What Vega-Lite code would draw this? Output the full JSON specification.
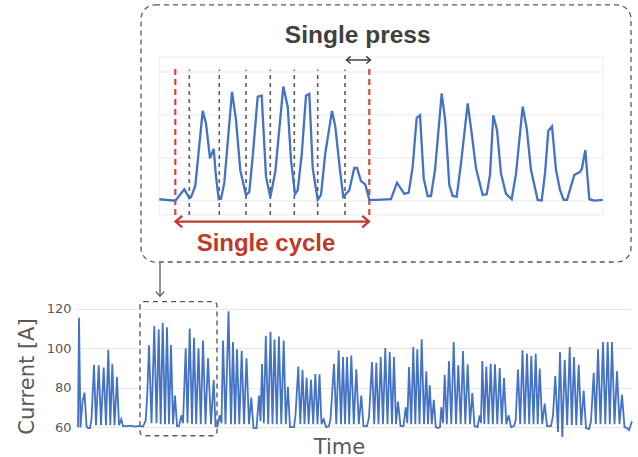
{
  "$schema": "https://vega.github.io/schema/vega-lite/v6.json",
  "padding": {"left": 15, "top": 0, "right": 8, "bottom": 0},
  "background": "white",
  "bounds": "flush",
  "spacing": 40,
  "resolve": {"scale": {"x": "independent", "y": "independent"}},
  "config": {
    "view": {"stroke": null},
    "axisX": {"labels": false, "ticks": false, "domain": false, "grid": false, "titleFont": "DejaVu Sans", "titleFontSize": 21, "titleFontWeight": "normal", "titleColor": "#595959", "titleX": 263, "titleY": 18, "titleBaseline": "alphabetic", "titleAlign": "center"},
    "axisY": {"grid": true, "gridColor": "#e6e6e6", "domain": false, "ticks": false, "labelPadding": 5, "labelFont": "DejaVu Sans", "labelFontSize": 13, "labelColor": "#595959", "titleFont": "DejaVu Sans", "titleFontSize": 21, "titleFontWeight": "normal", "titleColor": "#595959", "titleX": -49, "titleY": 71, "titleAngle": -90, "titleAlign": "center", "titleBaseline": "middle"}
  },
  "datasets": {
    "main": [
      {"t":2,"a":60},{"t":3,"a":115.5},{"t":4.5,"a":60},{"t":6.5,"a":73},{"t":8.5,"a":77.5},{"t":10.5,"a":60.5},{"t":12,"a":59.5},{"t":14,"a":59.5},{"t":15.5,"a":64},{"t":18,"a":91.7},{"t":20,"a":61},{"t":22.7,"a":91.4},{"t":25,"a":61},{"t":27.7,"a":90.2},{"t":30,"a":61},{"t":32.3,"a":99.3},{"t":34.3,"a":61},{"t":36.3,"a":92.2},{"t":38.5,"a":61},{"t":41,"a":85.4},{"t":43,"a":61},{"t":45.3,"a":64},{"t":47,"a":60.5},{"t":51,"a":60.5},{"t":55,"a":60.8},{"t":59,"a":60.3},{"t":63,"a":60.6},{"t":67,"a":60.3},{"t":69.7,"a":63.4},{"t":71.3,"a":77},{"t":73,"a":101.5},{"t":75.5,"a":62},{"t":78.3,"a":111.5},{"t":80.5,"a":62},{"t":82.7,"a":109.7},{"t":84.7,"a":61.5},{"t":86.7,"a":113},{"t":89,"a":61.5},{"t":91,"a":110.7},{"t":93,"a":61.5},{"t":95,"a":101.7},{"t":97,"a":61.5},{"t":99,"a":76},{"t":101,"a":60.5},{"t":103,"a":60.5},{"t":105.5,"a":66},{"t":107,"a":62},{"t":109.7,"a":100},{"t":111.5,"a":62},{"t":113.7,"a":110},{"t":116,"a":61.5},{"t":118,"a":105.3},{"t":120.2,"a":61.5},{"t":122.5,"a":100},{"t":124.8,"a":61.5},{"t":127,"a":104},{"t":129.5,"a":61.5},{"t":132,"a":95},{"t":135,"a":61.5},{"t":137.7,"a":84},{"t":139.5,"a":60.5},{"t":141.5,"a":60.5},{"t":143.7,"a":66},{"t":145.5,"a":62},{"t":147,"a":104},{"t":149.5,"a":61.5},{"t":152.5,"a":118.8},{"t":155,"a":61.5},{"t":157,"a":103.2},{"t":159,"a":61.5},{"t":161,"a":99.5},{"t":163.3,"a":61.5},{"t":165.7,"a":98.7},{"t":168,"a":61.5},{"t":170.5,"a":95},{"t":173,"a":61.5},{"t":175.3,"a":75},{"t":177.5,"a":59.5},{"t":180.5,"a":59.5},{"t":183,"a":76},{"t":184.5,"a":63},{"t":186,"a":92},{"t":187.8,"a":62},{"t":189.8,"a":106.4},{"t":192.2,"a":61.5},{"t":194.5,"a":108.4},{"t":196.5,"a":61.5},{"t":198.5,"a":104.5},{"t":200.8,"a":61.5},{"t":202.9,"a":106},{"t":205.3,"a":61.5},{"t":207.7,"a":104},{"t":209.8,"a":61.5},{"t":211.9,"a":80.5},{"t":214,"a":60},{"t":218,"a":60},{"t":219.5,"a":66},{"t":222.3,"a":90.8},{"t":224.3,"a":61.5},{"t":226.5,"a":89},{"t":228.5,"a":61.5},{"t":230.6,"a":85},{"t":232.7,"a":61.5},{"t":235,"a":84},{"t":237.2,"a":61.5},{"t":239.3,"a":87},{"t":241.5,"a":61.5},{"t":243.5,"a":86.8},{"t":245.5,"a":61.5},{"t":247.7,"a":64},{"t":250,"a":60},{"t":253,"a":60.5},{"t":254.5,"a":64},{"t":258,"a":92.2},{"t":260.3,"a":61.5},{"t":262.7,"a":99},{"t":265,"a":61.5},{"t":267,"a":95.6},{"t":269,"a":61.5},{"t":271,"a":95.6},{"t":273.2,"a":61.5},{"t":275.3,"a":96.4},{"t":277.8,"a":61.5},{"t":280.3,"a":89.3},{"t":282.8,"a":61.5},{"t":285.3,"a":76},{"t":287.5,"a":60.5},{"t":291,"a":60.5},{"t":293,"a":65},{"t":296,"a":93},{"t":298.2,"a":61.5},{"t":300.3,"a":92.7},{"t":302.5,"a":61.5},{"t":304.7,"a":95.6},{"t":307,"a":61.5},{"t":309.3,"a":100.2},{"t":311.5,"a":61.5},{"t":313.7,"a":98.1},{"t":316,"a":61.5},{"t":318,"a":95.6},{"t":320,"a":61.5},{"t":322,"a":73},{"t":324.5,"a":60.5},{"t":327.5,"a":60.5},{"t":329.7,"a":70},{"t":331.3,"a":62},{"t":333,"a":90.5},{"t":335.2,"a":61.5},{"t":337.3,"a":100.7},{"t":339.3,"a":61.5},{"t":341.3,"a":99.5},{"t":343.5,"a":61.5},{"t":345.7,"a":104.6},{"t":348,"a":61.5},{"t":350.3,"a":88.3},{"t":352,"a":61.5},{"t":353.7,"a":81.2},{"t":355.8,"a":61.5},{"t":357.8,"a":73.8},{"t":359.8,"a":60},{"t":362,"a":59.5},{"t":364,"a":60},{"t":365.3,"a":70},{"t":367,"a":62},{"t":368.7,"a":86.6},{"t":370.8,"a":61.5},{"t":373,"a":93.6},{"t":375.3,"a":61.5},{"t":377.7,"a":103.2},{"t":380,"a":61.5},{"t":382.3,"a":91.4},{"t":384.7,"a":61.5},{"t":387,"a":98.6},{"t":389.3,"a":61.5},{"t":391.7,"a":91.9},{"t":394,"a":61.5},{"t":396.3,"a":77.3},{"t":398.5,"a":60.5},{"t":401.5,"a":60},{"t":403.7,"a":66},{"t":405,"a":62},{"t":406.3,"a":93.6},{"t":408.3,"a":61.5},{"t":410.3,"a":90.8},{"t":412.5,"a":61.5},{"t":414.7,"a":92.2},{"t":416.8,"a":61.5},{"t":419,"a":91.9},{"t":421.3,"a":61.5},{"t":423.7,"a":90},{"t":425.8,"a":61.5},{"t":428,"a":84.9},{"t":430.3,"a":61.5},{"t":432.7,"a":66},{"t":435,"a":60},{"t":438,"a":60.5},{"t":439.7,"a":63.5},{"t":442,"a":89.2},{"t":444.2,"a":61.5},{"t":446.5,"a":99},{"t":448.7,"a":61.5},{"t":451,"a":97.3},{"t":453.2,"a":61.5},{"t":455.3,"a":96.1},{"t":457.5,"a":61.5},{"t":459.7,"a":97.3},{"t":461.7,"a":61.5},{"t":463.7,"a":89.7},{"t":466.2,"a":61.5},{"t":468.7,"a":71.9},{"t":471,"a":60.5},{"t":475,"a":60.5},{"t":477,"a":66},{"t":479.3,"a":85.9},{"t":482,"a":57.5},{"t":484,"a":98.1},{"t":486.3,"a":55},{"t":488.7,"a":94.2},{"t":491.2,"a":61},{"t":493.7,"a":100.7},{"t":495.8,"a":61},{"t":498,"a":95.6},{"t":500.3,"a":61},{"t":502.7,"a":91.7},{"t":505.2,"a":61},{"t":507.7,"a":78.6},{"t":510,"a":59.5},{"t":513,"a":59},{"t":515,"a":63},{"t":517.7,"a":87.6},{"t":519.8,"a":61.5},{"t":522,"a":99.5},{"t":524.5,"a":61.5},{"t":527,"a":103.2},{"t":529.3,"a":61.5},{"t":531.7,"a":103.2},{"t":533.8,"a":61.5},{"t":536,"a":103.2},{"t":538.5,"a":61.5},{"t":541,"a":88.3},{"t":543.5,"a":61.5},{"t":546,"a":76.4},{"t":548.5,"a":60},{"t":551,"a":59.5},{"t":553,"a":58.5},{"t":556,"a":63}
    ],
    "inset": [
      {"u":0.3,"a":60.8},{"u":7,"a":60.5},{"u":16.3,"a":60.1},{"u":25.3,"a":65.4},{"u":30.3,"a":61.3},{"u":32,"a":61.7},{"u":36.3,"a":67.1},{"u":43.7,"a":101.9},{"u":47,"a":96.1},{"u":51,"a":79.8},{"u":54.7,"a":84.2},{"u":57,"a":71.3},{"u":59.7,"a":60.8},{"u":62,"a":61},{"u":65.3,"a":68.4},{"u":73,"a":110.8},{"u":77,"a":97.7},{"u":81.3,"a":74.2},{"u":87,"a":62.7},{"u":90.3,"a":64.2},{"u":93.7,"a":80.6},{"u":98.7,"a":108.5},{"u":102.7,"a":109},{"u":107,"a":71.3},{"u":111.3,"a":61.7},{"u":116.3,"a":73.6},{"u":124.3,"a":113.2},{"u":128.7,"a":103.9},{"u":132,"a":79.1},{"u":136,"a":63.2},{"u":138.7,"a":65},{"u":142.7,"a":81.4},{"u":147,"a":109},{"u":150.3,"a":109.8},{"u":153.7,"a":75.4},{"u":158.7,"a":60.5},{"u":162,"a":62.8},{"u":166.3,"a":82.2},{"u":173,"a":101.9},{"u":176.3,"a":94.6},{"u":181,"a":74.2},{"u":184.3,"a":61.9},{"u":190.3,"a":65},{"u":195.3,"a":75.4},{"u":198,"a":75.4},{"u":202,"a":69.2},{"u":206.3,"a":67.7},{"u":210.3,"a":60.5},{"u":217,"a":60.5},{"u":232,"a":60.8},{"u":238,"a":68.5},{"u":245.3,"a":63.3},{"u":249.7,"a":63.9},{"u":253.7,"a":76},{"u":257.7,"a":98.7},{"u":261,"a":99.9},{"u":264.7,"a":70.5},{"u":268.7,"a":62.3},{"u":272,"a":62.3},{"u":276,"a":74.4},{"u":282.7,"a":110.1},{"u":286.3,"a":97.1},{"u":290.3,"a":67.4},{"u":293.7,"a":62.3},{"u":297.7,"a":62},{"u":302,"a":77.5},{"u":308.7,"a":105.4},{"u":312.7,"a":91.4},{"u":317,"a":75.2},{"u":323.7,"a":62.8},{"u":327.7,"a":63.1},{"u":331,"a":72.1},{"u":334.3,"a":99.9},{"u":338,"a":92.9},{"u":342,"a":72.7},{"u":347,"a":63.3},{"u":352.7,"a":60.8},{"u":357,"a":72.7},{"u":363.7,"a":103.9},{"u":367.7,"a":93.8},{"u":372,"a":74.4},{"u":378.7,"a":60.5},{"u":382.7,"a":60.2},{"u":386,"a":72.7},{"u":389.3,"a":92.6},{"u":393,"a":94.7},{"u":397,"a":74.4},{"u":401,"a":65.1},{"u":404.7,"a":60.5},{"u":408,"a":60.5},{"u":415.3,"a":72.1},{"u":421.3,"a":73.6},{"u":423,"a":75.2},{"u":426.3,"a":83.7},{"u":430.3,"a":60.8},{"u":435.3,"a":60.2},{"u":443.7,"a":60.5}
    ]
  },
  "vconcat": [
    {
      "width": 555,
      "height": 265,
      "layer": [
        {
          "data": {"values": [{"u": -18, "u2": 472, "a": 31.6, "a2": 151.2}]},
          "mark": {"type": "rect", "fill": "white", "fillOpacity": 0, "stroke": "#5a5a5a", "strokeWidth": 1.3, "strokeDash": [5, 4], "cornerRadius": 14},
          "encoding": {
            "x": {"field": "u", "type": "quantitative", "scale": {"domain": [-83, 472], "nice": false, "zero": false}, "axis": null},
            "x2": {"field": "u2"},
            "y": {"field": "a", "type": "quantitative", "scale": {"domain": [30.2, 153.5], "nice": false, "zero": false}, "axis": null},
            "y2": {"field": "a2"}
          }
        },
        {
          "data": {"values": [{"u": 0, "u2": 444, "a": 53.5, "a2": 127}]},
          "mark": {"type": "rect", "fill": "white", "fillOpacity": 0, "stroke": "#ececec", "strokeWidth": 1},
          "encoding": {
            "x": {"field": "u", "type": "quantitative", "scale": {"domain": [-83, 472], "nice": false, "zero": false}, "axis": null},
            "x2": {"field": "u2"},
            "y": {"field": "a", "type": "quantitative", "scale": {"domain": [30.2, 153.5], "nice": false, "zero": false}, "axis": null},
            "y2": {"field": "a2"}
          }
        },
        {
          "data": {"values": [{"a": 60, "u": 0, "u2": 444}, {"a": 80, "u": 0, "u2": 444}, {"a": 100, "u": 0, "u2": 444}, {"a": 120, "u": 0, "u2": 444}]},
          "mark": {"type": "rule", "color": "#e8e8e8", "strokeWidth": 1},
          "encoding": {
            "x": {"field": "u", "type": "quantitative", "scale": {"domain": [-83, 472], "nice": false, "zero": false}, "axis": null},
            "x2": {"field": "u2"},
            "y": {"field": "a", "type": "quantitative", "scale": {"domain": [30.2, 153.5], "nice": false, "zero": false}, "axis": null}
          }
        },
        {
          "data": {"values": [{"u": 30.3, "a": 53.5, "a2": 121}, {"u": 60.3, "a": 53.5, "a2": 121}, {"u": 87, "a": 53.5, "a2": 121}, {"u": 111.3, "a": 53.5, "a2": 121}, {"u": 135.3, "a": 53.5, "a2": 121}, {"u": 158.7, "a": 53.5, "a2": 121}, {"u": 186, "a": 53.5, "a2": 121}]},
          "mark": {"type": "rule", "color": "#5a5a5a", "strokeWidth": 1.6, "strokeDash": [4, 4]},
          "encoding": {
            "x": {"field": "u", "type": "quantitative", "scale": {"domain": [-83, 472], "nice": false, "zero": false}, "axis": null},
            "y": {"field": "a", "type": "quantitative", "scale": {"domain": [30.2, 153.5], "nice": false, "zero": false}, "axis": null},
            "y2": {"field": "a2"}
          }
        },
        {
          "data": {"values": [{"u": 16.3, "a": 53.5, "a2": 122}, {"u": 210.3, "a": 53.5, "a2": 122}]},
          "mark": {"type": "rule", "color": "#d9483b", "strokeWidth": 2.2, "strokeDash": [6, 4]},
          "encoding": {
            "x": {"field": "u", "type": "quantitative", "scale": {"domain": [-83, 472], "nice": false, "zero": false}, "axis": null},
            "y": {"field": "a", "type": "quantitative", "scale": {"domain": [30.2, 153.5], "nice": false, "zero": false}, "axis": null},
            "y2": {"field": "a2"}
          }
        },
        {
          "data": {"name": "inset"},
          "mark": {"type": "line", "color": "#4472C4", "strokeWidth": 2.3},
          "encoding": {
            "x": {"field": "u", "type": "quantitative", "scale": {"domain": [-83, 472], "nice": false, "zero": false}, "axis": null},
            "y": {"field": "a", "type": "quantitative", "scale": {"domain": [30.2, 153.5], "nice": false, "zero": false}, "axis": null}
          }
        },
        {
          "data": {"values": [{"u": 16.5, "u2": 210, "a": 50.4}]},
          "mark": {"type": "rule", "color": "#c0392b", "strokeWidth": 2.2},
          "encoding": {
            "x": {"field": "u", "type": "quantitative", "scale": {"domain": [-83, 472], "nice": false, "zero": false}, "axis": null},
            "x2": {"field": "u2"},
            "y": {"field": "a", "type": "quantitative", "scale": {"domain": [30.2, 153.5], "nice": false, "zero": false}, "axis": null}
          }
        },
        {
          "data": {"values": [{"u": 16.5, "a": 50.4, "d": "l"}, {"u": 210, "a": 50.4, "d": "r"}]},
          "mark": {"type": "point", "color": "#c0392b", "filled": false, "opacity": 1, "strokeWidth": 2.2, "size": 180},
          "encoding": {
            "x": {"field": "u", "type": "quantitative", "scale": {"domain": [-83, 472], "nice": false, "zero": false}, "axis": null},
            "y": {"field": "a", "type": "quantitative", "scale": {"domain": [30.2, 153.5], "nice": false, "zero": false}, "axis": null},
            "shape": {"field": "d", "type": "nominal", "scale": {"domain": ["l", "r", "d"], "range": ["M 1 -0.85 L 0 0 L 1 0.85", "M -1 -0.85 L 0 0 L -1 0.85", "M -0.85 -1 L 0 0 L 0.85 -1"]}, "legend": null}
          }
        },
        {
          "data": {"values": [{"u": 187.5, "u2": 211.5, "a": 125.6}]},
          "mark": {"type": "rule", "color": "#404040", "strokeWidth": 1.5},
          "encoding": {
            "x": {"field": "u", "type": "quantitative", "scale": {"domain": [-83, 472], "nice": false, "zero": false}, "axis": null},
            "x2": {"field": "u2"},
            "y": {"field": "a", "type": "quantitative", "scale": {"domain": [30.2, 153.5], "nice": false, "zero": false}, "axis": null}
          }
        },
        {
          "data": {"values": [{"u": 187.5, "a": 125.6, "d": "l"}, {"u": 211.5, "a": 125.6, "d": "r"}]},
          "mark": {"type": "point", "color": "#404040", "filled": false, "opacity": 1, "strokeWidth": 1.5, "size": 70},
          "encoding": {
            "x": {"field": "u", "type": "quantitative", "scale": {"domain": [-83, 472], "nice": false, "zero": false}, "axis": null},
            "y": {"field": "a", "type": "quantitative", "scale": {"domain": [30.2, 153.5], "nice": false, "zero": false}, "axis": null},
            "shape": {"field": "d", "type": "nominal", "scale": {"domain": ["l", "r", "d"], "range": ["M 1 -0.85 L 0 0 L 1 0.85", "M -1 -0.85 L 0 0 L -1 0.85", "M -0.85 -1 L 0 0 L 0.85 -1"]}, "legend": null}
          }
        },
        {
          "data": {"values": [{"u": 198.7, "a": 133.6, "label": "Single press"}]},
          "mark": {"type": "text", "font": "Liberation Sans", "fontWeight": "bold", "fontSize": 24.5, "color": "#404040", "align": "center", "baseline": "alphabetic"},
          "encoding": {
            "x": {"field": "u", "type": "quantitative", "scale": {"domain": [-83, 472], "nice": false, "zero": false}, "axis": null},
            "y": {"field": "a", "type": "quantitative", "scale": {"domain": [30.2, 153.5], "nice": false, "zero": false}, "axis": null},
            "text": {"field": "label"}
          }
        },
        {
          "data": {"values": [{"u": 107, "a": 36.9, "label": "Single cycle"}]},
          "mark": {"type": "text", "font": "Liberation Sans", "fontWeight": "bold", "fontSize": 24, "color": "#c0392b", "align": "center", "baseline": "alphabetic"},
          "encoding": {
            "x": {"field": "u", "type": "quantitative", "scale": {"domain": [-83, 472], "nice": false, "zero": false}, "axis": null},
            "y": {"field": "a", "type": "quantitative", "scale": {"domain": [30.2, 153.5], "nice": false, "zero": false}, "axis": null},
            "text": {"field": "label"}
          }
        }
      ]
    },
    {
      "width": 555,
      "height": 130,
      "layer": [
        {
          "data": {"name": "main"},
          "mark": {"type": "line", "color": "#4472C4", "strokeWidth": 1.8},
          "encoding": {
            "x": {"field": "t", "type": "quantitative", "scale": {"domain": [0, 555], "nice": false, "zero": false}, "axis": {"title": "Time"}},
            "y": {"field": "a", "type": "quantitative", "scale": {"domain": [56, 122], "nice": false, "zero": false}, "axis": {"title": "Current [A]", "values": [60, 80, 100, 120]}}
          }
        },
        {
          "data": {"values": [{"t": 64, "t2": 141, "a": 55.6, "a2": 123.7}]},
          "mark": {"type": "rect", "fill": "white", "fillOpacity": 0, "stroke": "#5a5a5a", "strokeWidth": 1.4, "strokeDash": [5, 4], "cornerRadius": 4},
          "encoding": {
            "x": {"field": "t", "type": "quantitative", "scale": {"domain": [0, 555], "nice": false, "zero": false}, "axis": {"title": "Time"}},
            "x2": {"field": "t2"},
            "y": {"field": "a", "type": "quantitative", "scale": {"domain": [56, 122], "nice": false, "zero": false}, "axis": {"title": "Current [A]", "values": [60, 80, 100, 120]}},
            "y2": {"field": "a2"}
          }
        },
        {
          "data": {"values": [{"t": 84, "a": 126.4, "a2": 143.5}]},
          "mark": {"type": "rule", "color": "#5a5a5a", "strokeWidth": 1.3},
          "encoding": {
            "x": {"field": "t", "type": "quantitative", "scale": {"domain": [0, 555], "nice": false, "zero": false}, "axis": {"title": "Time"}},
            "y": {"field": "a", "type": "quantitative", "scale": {"domain": [56, 122], "nice": false, "zero": false}, "axis": {"title": "Current [A]", "values": [60, 80, 100, 120]}},
            "y2": {"field": "a2"}
          }
        },
        {
          "data": {"values": [{"t": 84, "a": 126.4, "d": "d"}]},
          "mark": {"type": "point", "color": "#5a5a5a", "filled": false, "opacity": 1, "strokeWidth": 1.3, "size": 90},
          "encoding": {
            "x": {"field": "t", "type": "quantitative", "scale": {"domain": [0, 555], "nice": false, "zero": false}, "axis": {"title": "Time"}},
            "y": {"field": "a", "type": "quantitative", "scale": {"domain": [56, 122], "nice": false, "zero": false}, "axis": {"title": "Current [A]", "values": [60, 80, 100, 120]}},
            "shape": {"field": "d", "type": "nominal", "scale": {"domain": ["l", "r", "d"], "range": ["M 1 -0.85 L 0 0 L 1 0.85", "M -1 -0.85 L 0 0 L -1 0.85", "M -0.85 -1 L 0 0 L 0.85 -1"]}, "legend": null}
          }
        }
      ]
    }
  ]
}
